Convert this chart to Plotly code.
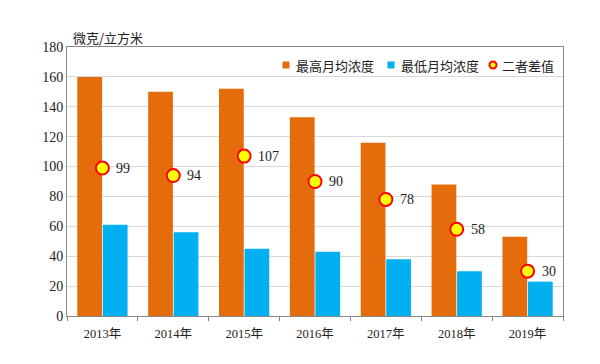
import plotly.graph_objects as go

years = ["2013年", "2014年", "2015年", "2016年", "2017年", "2018年", "2019年"]
max_conc = [160, 150, 152, 133, 116, 88, 53]
min_conc = [61, 56, 45, 43, 38, 30, 23]
diff = [99, 94, 107, 90, 78, 58, 30]
y_ticks = [0, 20, 40, 60, 80, 100, 120, 140, 160, 180]
legend_names = ["最高月均浓度", "最低月均浓度", "二者差值"]

ORANGE = "#E46C0A"
BLUE = "#00B0F0"
SERIF = "Liberation Serif, Noto Sans CJK SC, serif"
SANS = "Noto Sans CJK SC, sans-serif"

# plot area in screen pixels (page has an 8px body margin)
PL, PR, PT, PB = 67, 563, 47, 316
OFF = 8


def px(x):
    return (x - PL) / (PR - PL)


def py(y):
    return (PB - y) / (PB - PT)


fig = go.Figure()
fig.add_trace(go.Bar(x=years, y=max_conc, marker=dict(color=ORANGE, line=dict(width=0)),
                     name=legend_names[0], showlegend=False))
fig.add_trace(go.Bar(x=years, y=min_conc, marker=dict(color=BLUE, line=dict(width=0)),
                     name=legend_names[1], showlegend=False))
fig.add_trace(go.Scatter(x=years, y=diff, mode="markers", name=legend_names[2], showlegend=False,
                         marker=dict(color="#FFFF00", size=13, line=dict(color="#FF0000", width=2))))

for yr, d in zip(years, diff):
    fig.add_annotation(x=yr, y=d, text=str(d), showarrow=False, xanchor="left",
                       xshift=12, font=dict(family=SERIF, size=14, color="#222"))

# axis unit title
fig.add_annotation(x=px(71), y=py(37), xref="paper", yref="paper", xanchor="left",
                   yanchor="middle", text="微克/立方米", showarrow=False,
                   font=dict(family=SANS, size=13, color="#222"))

# manual legend
LY = 65
fig.add_shape(type="rect", xref="paper", yref="paper", x0=px(282.5), x1=px(289.5),
              y0=py(68.5), y1=py(61.5), fillcolor=ORANGE, line=dict(width=0))
fig.add_shape(type="rect", xref="paper", yref="paper", x0=px(387.5), x1=px(394.5),
              y0=py(68.5), y1=py(61.5), fillcolor=BLUE, line=dict(width=0))
fig.add_shape(type="circle", xref="paper", yref="paper", x0=px(489.5), x1=px(496.5),
              y0=py(68.5), y1=py(61.5), fillcolor="#FFFF00", line=dict(color="#FF0000", width=2))
for name, lx in zip(legend_names, [293.5, 398.5, 500]):
    fig.add_annotation(x=px(lx), y=py(LY), xref="paper", yref="paper", xanchor="left",
                       yanchor="middle", text=name, showarrow=False,
                       font=dict(family=SANS, size=13, color="#222"))

fig.update_layout(
    width=600, height=364,
    margin=dict(l=PL - OFF, r=600 - (PR - OFF), t=PT - OFF, b=364 - (PB - OFF), pad=0),
    plot_bgcolor="white", paper_bgcolor="white",
    barmode="group", bargap=0.28, bargroupgap=0.03,
    showlegend=False,
    xaxis=dict(showline=True, linecolor="#888", linewidth=1, mirror=True,
               ticks="outside", ticklen=4, tickcolor="#888", tickson="boundaries",
               ticklabelstandoff=6,
               tickfont=dict(family=SERIF, size=12.5, color="#222")),
    yaxis=dict(range=[0, 180], tickvals=y_ticks, showline=True, linecolor="#888",
               linewidth=1, mirror=True, gridcolor="#D9D9D9", gridwidth=1,
               tickfont=dict(family=SERIF, size=14, color="#222"), ticks="", zeroline=False),
)

fig.write_html("out.html")
